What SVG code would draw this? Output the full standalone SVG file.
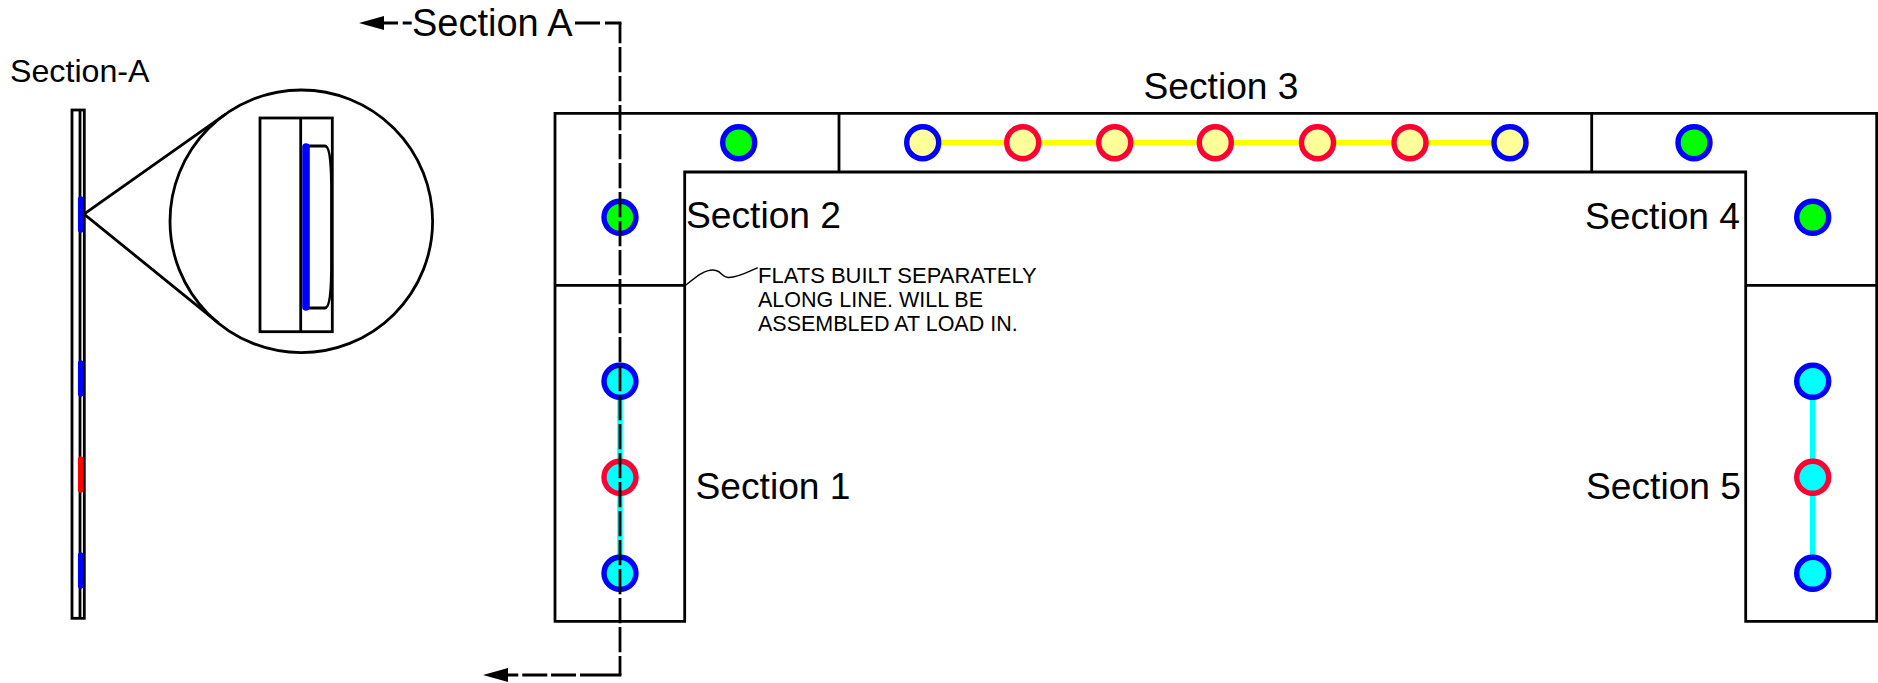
<svg xmlns="http://www.w3.org/2000/svg" width="1878" height="683" viewBox="0 0 1878 683">
<style>
text{font-family:"Liberation Sans",Arial,sans-serif;fill:#000}
.sec{font-size:37.2px}
.note{font-size:21.5px}
.ln{fill:none;stroke:#000;stroke-width:2.8}
.bar{fill:none;stroke-width:5.5;stroke-linecap:round}
.pin{stroke-width:5.4}
.b{stroke:#0000ff}.r{stroke:#ff0033}
.g{fill:#00ff00}.c{fill:#00ffff}.y{fill:#ffff99}
.dash{fill:none;stroke:#000;stroke-width:2.8}
</style>
<rect width="1878" height="683" fill="#fff"/>
<g id="section-a-view">
<text x="10" y="82" style="font-size:32.2px">Section-A</text>
<rect class="ln" x="72" y="110" width="12.3" height="508.3"/>
<path class="ln" d="M80 110V618"/>
<path class="bar" stroke="#0000ff" d="M80.7 199V230M80.7 363V394M80.7 555V586"/>
<path class="bar" stroke="#ff0000" d="M80.7 459V490"/>
</g>
<g id="detail">
<circle class="ln" cx="301.3" cy="221.3" r="131.3"/>
<path class="ln" d="M225.600 114.100L84 214L218.600 323.200"/>
<rect class="ln" x="260" y="118" width="72.3" height="213.7"/>
<path class="ln" d="M300.7 118V331.7"/>
<path class="ln" d="M306 146H325Q331 146 331.500 185V270Q331 308 325 308H306"/>
<path fill="none" stroke="#0000ff" stroke-width="7.6" stroke-linecap="round" d="M306 147V307"/>
</g>
<g id="wall">
<path class="ln" d="M555 285.3V621.3H684.7V172H1745.7V621.3H1876.7V113.3H555V285.3H684.7"/>
<path class="ln" d="M839 113.3V172M1591.7 113.3V172M1745.7 285.3H1876.7"/>
</g>
<g id="links">
<path class="bar" stroke="#00ffff" d="M620 381.3V573.3M1812.7 381.3V573.3"/>
<path class="bar" stroke="#ffff00" d="M922.7 142.7H1510"/>
</g>
<g id="pin-t1"><circle class="pin b g" cx="738.7" cy="142.7" r="16"/></g>
<g id="pin-t2"><circle class="pin b g" cx="1694" cy="142.7" r="16"/></g>
<g id="pin-l1"><circle class="pin b g" cx="620" cy="217.3" r="16"/></g>
<g id="pin-r1"><circle class="pin b g" cx="1812.7" cy="217.3" r="16"/></g>
<g id="pin-l2"><circle class="pin b c" cx="620" cy="381.3" r="16"/></g>
<g id="pin-l3"><circle class="pin r c" cx="620" cy="477.3" r="16"/></g>
<g id="pin-l4"><circle class="pin b c" cx="620" cy="573.3" r="16"/></g>
<g id="pin-r2"><circle class="pin b c" cx="1812.7" cy="381.3" r="16"/></g>
<g id="pin-r3"><circle class="pin r c" cx="1812.7" cy="477.3" r="16"/></g>
<g id="pin-r4"><circle class="pin b c" cx="1812.7" cy="573.3" r="16"/></g>
<g id="pin-y1"><circle class="pin b y" cx="922.7" cy="142.7" r="16"/></g>
<g id="pin-y2"><circle class="pin r y" cx="1022.7" cy="142.7" r="16"/></g>
<g id="pin-y3"><circle class="pin r y" cx="1114.7" cy="142.7" r="16"/></g>
<g id="pin-y4"><circle class="pin r y" cx="1215.3" cy="142.7" r="16"/></g>
<g id="pin-y5"><circle class="pin r y" cx="1317.5" cy="142.7" r="16"/></g>
<g id="pin-y6"><circle class="pin r y" cx="1410" cy="142.7" r="16"/></g>
<g id="pin-y7"><circle class="pin b y" cx="1510" cy="142.7" r="16"/></g>
<g id="connectors">
<path class="dash" d="M620 23V675" stroke-dasharray="25.2 3.8" stroke-dashoffset="4.9"/>
<path class="dash" d="M383 23H398M402.7 23H411.7M575 23H600M605 23H621.4"/>
<path class="dash" d="M507.7 675H518.3M522.3 675H547.3M551 675H576M580 675H621.4"/>
<path d="M359 23L384 16V30Z" fill="#000"/>
<path d="M483 675L508 668V682Z" fill="#000"/>
<path fill="none" stroke="#000" stroke-width="1.4" d="M685.700 285.300C697 276 707 268 716 270.500C722 272 722 277 728 277.500C737 278 748 272 757.700 267.700"/>
</g>
<g id="labels">
<text class="sec" x="412" y="36" style="font-size:38px">Section A</text>
<text class="sec" x="686" y="228">Section 2</text>
<text class="sec" x="695.500" y="498.500">Section 1</text>
<text class="sec" x="1143.500" y="98.500">Section 3</text>
<text class="sec" x="1585" y="228.500">Section 4</text>
<text class="sec" x="1586" y="498.500">Section 5</text>
<text class="note" x="758" y="283" style="font-size:22px">FLATS BUILT SEPARATELY</text>
<text class="note" x="758" y="307">ALONG LINE. WILL BE</text>
<text class="note" x="758" y="331">ASSEMBLED AT LOAD IN.</text>
</g>
</svg>
